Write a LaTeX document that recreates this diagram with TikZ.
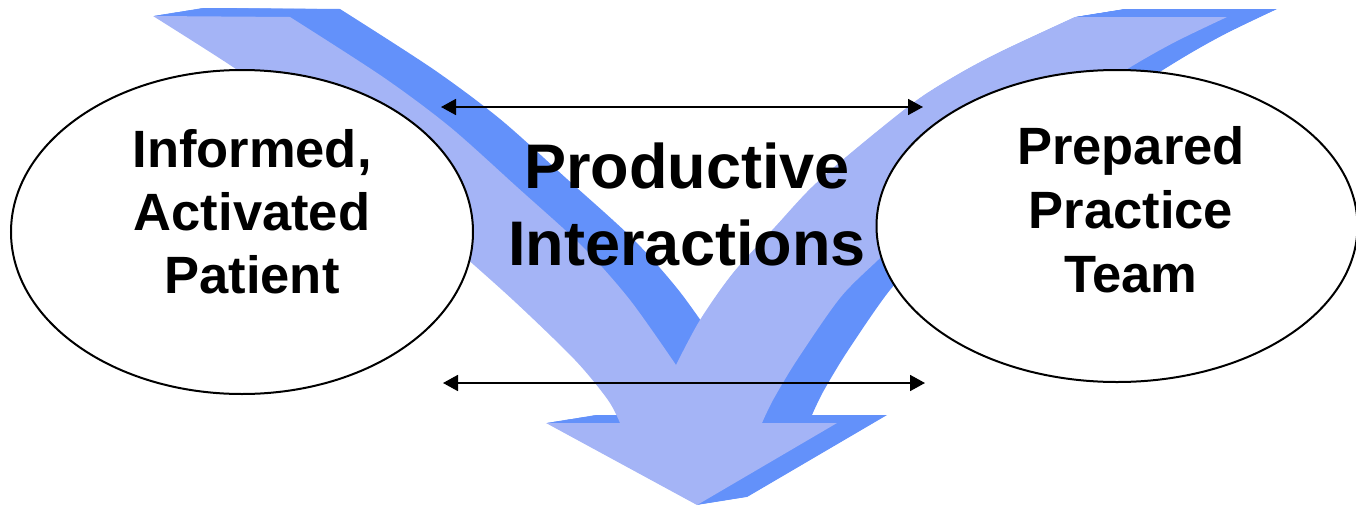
\documentclass[tikz,border=0pt]{standalone}
\usepackage{fontspec}
\setmainfont{Liberation Sans}
\usetikzlibrary{arrows.meta,shapes.geometric}

\definecolor{facebl}{RGB}{164,180,246}
\definecolor{sidebl}{RGB}{99,145,250}

% outline of the merging down arrow (units: x=0.5pt, y=-0.5pt)
\newcommand{\chevronpath}{(153,16) -- (290,17)
  -- plot[smooth] coordinates {(290,17) (383,77) (450,127) (517,187) (583,247) (630,300) (676,365)}
  -- plot[smooth] coordinates {(676,365) (700,320) (733,273) (775,227) (812,187) (858,147) (917,100) (962,72) (1004,50) (1075,17)}
  -- (1227,17)
  -- plot[smooth] coordinates {(1227,17) (1175,42) (1129,68) (1060,112) (990,162) (930,212) (878,260) (840,298) (797,360) (773,400) (762,423)}
  -- (837,423) -- (697,505) -- (546,423) -- (620,423)
  -- plot[smooth] coordinates {(620,423) (608,400) (575,360) (513,300) (440,235) (360,165) (290,108) (233,67) (153,16)}
  -- cycle}

\begin{document}
\begin{tikzpicture}[x=0.5pt,y=-0.5pt,
    oval/.style={ellipse,draw,fill=white,line width=1pt,inner sep=0pt},
    sidetext/.style={align=center,inner sep=0pt,font=\fontsize{26.25}{31.5}\selectfont\bfseries},
    midtext/.style={align=center,inner sep=0pt,font=\fontsize{31.5}{38.5}\selectfont\bfseries},
    link/.style={{Triangle[length=7.5pt,width=8pt]}-{Triangle[length=7.5pt,width=8pt]},line width=0.9pt}]
  \useasboundingbox (0,0) rectangle (1356,509);

  % 3d arrow: dark extrusion first, then the light face
  \foreach \k in {1,...,50}
    \fill[sidebl,shift={(\k,-0.16*\k)}] \chevronpath;
  \fill[facebl] \chevronpath;

  \node[oval,minimum width=231pt,minimum height=162pt] (patient) at (242,232) {};
  \node[oval,minimum width=240.5pt,minimum height=156pt] (team) at (1117,226) {};

  \node[sidetext] (patienttxt) at (252,212) {Informed,\\Activated\\Patient};
  \node[sidetext,font=\fontsize{26.25}{32}\selectfont\bfseries] (teamtxt) at (1131,210) {Prepared\\Practice\\Team};
  \node[midtext] (interact) at (687,204) {Productive\\Interactions};

  \coordinate (tl) at (441,107);
  \coordinate (tr) at (923,107);
  \coordinate (bl) at (443,383);
  \coordinate (br) at (925,383);
  \draw[link] (tl) -- (tr);
  \draw[link] (bl) -- (br);
\end{tikzpicture}
\end{document}
